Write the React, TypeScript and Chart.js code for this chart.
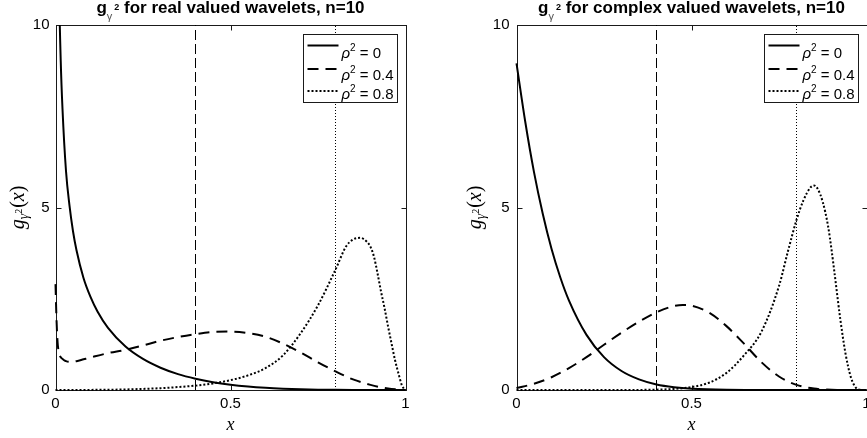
import React, { useEffect, useRef } from "react";
import { Chart, registerables } from "chart.js";

Chart.register(...registerables);

// ---------------- data ----------------
const xTickValues = [0, 0.5, 1];
const yTickValues = [0, 5, 10];
const thresholdX = [0.4, 0.8];
const rhoLabels = ["0", "0.4", "0.8"];
const titleReal = " for real valued wavelets, n=10";
const titleComplex = " for complex valued wavelets, n=10";

// real valued wavelets
const realX0 = [0.005, 0.01, 0.015, 0.02, 0.03, 0.04, 0.05, 0.06, 0.08, 0.1, 0.12, 0.15, 0.2, 0.25, 0.3, 0.35, 0.4, 0.45, 0.5, 0.55, 0.6, 0.65, 0.7, 0.75, 0.8, 0.85, 0.9, 0.95, 1];
const realY0 = [16.2, 11.2, 9.0, 7.7, 6.0, 5.05, 4.35, 3.83, 3.07, 2.55, 2.15, 1.7, 1.19, 0.85, 0.61, 0.435, 0.31, 0.215, 0.146, 0.096, 0.061, 0.037, 0.021, 0.01, 0.005, 0.002, 0.0003, 0, 0];

const realX1 = [0, 0.003, 0.006, 0.01, 0.02, 0.03, 0.04, 0.06, 0.08, 0.1, 0.15, 0.2, 0.25, 0.3, 0.35, 0.4, 0.45, 0.5, 0.55, 0.6, 0.65, 0.7, 0.75, 0.8, 0.85, 0.9, 0.95, 1];
const realY1 = [2.9, 1.9, 1.3, 1.02, 0.85, 0.79, 0.77, 0.79, 0.84, 0.89, 1.01, 1.1, 1.22, 1.35, 1.45, 1.53, 1.59, 1.6, 1.56, 1.46, 1.27, 1.03, 0.76, 0.51, 0.29, 0.14, 0.04, 0];

const realX2 = [0, 0.1, 0.2, 0.25, 0.3, 0.35, 0.4, 0.45, 0.5, 0.55, 0.6, 0.65, 0.7, 0.75, 0.8, 0.83, 0.85, 0.87, 0.89, 0.9, 0.91, 0.92, 0.93, 0.94, 0.95, 0.96, 0.97, 0.98, 0.99, 1];
const realY2 = [0, 0.003, 0.015, 0.03, 0.05, 0.08, 0.12, 0.18, 0.27, 0.4, 0.6, 0.95, 1.55, 2.32, 3.3, 3.93, 4.12, 4.17, 4.06, 3.92, 3.65, 3.2, 2.7, 2.25, 1.75, 1.28, 0.82, 0.45, 0.12, 0];

// complex valued wavelets
const cplxX0 = [0, 0.025, 0.05, 0.075, 0.1, 0.125, 0.15, 0.2, 0.25, 0.3, 0.35, 0.4, 0.45, 0.5, 0.6, 0.7, 0.8, 0.9, 1];
const cplxY0 = [8.95, 7.35, 5.97, 4.83, 3.87, 3.09, 2.45, 1.51, 0.9, 0.52, 0.29, 0.15, 0.075, 0.035, 0.006, 0.001, 0, 0, 0];

const cplxX1 = [0, 0.05, 0.1, 0.15, 0.2, 0.25, 0.3, 0.35, 0.4, 0.45, 0.475, 0.5, 0.55, 0.6, 0.65, 0.7, 0.75, 0.8, 0.85, 0.9, 0.95, 1];
const cplxY1 = [0.054, 0.17, 0.35, 0.6, 0.9, 1.24, 1.57, 1.87, 2.13, 2.3, 2.33, 2.31, 2.12, 1.75, 1.27, 0.76, 0.37, 0.14, 0.04, 0.006, 0.0005, 0];

const cplxX2 = [0, 0.3, 0.4, 0.45, 0.5, 0.55, 0.6, 0.65, 0.7, 0.75, 0.775, 0.8, 0.82, 0.84, 0.85, 0.86, 0.875, 0.89, 0.9, 0.91, 0.925, 0.94, 0.955, 0.97, 0.98, 1];
const cplxY2 = [0, 0.001, 0.01, 0.03, 0.08, 0.2, 0.47, 0.95, 1.6, 2.85, 3.78, 4.66, 5.2, 5.55, 5.6, 5.52, 5.15, 4.5, 3.85, 3.1, 1.95, 1.0, 0.36, 0.06, 0.01, 0];

// ---------------- drawing helpers ----------------
const SANS = '"Liberation Sans", Arial, Helvetica, sans-serif';
const SERIF = '"Liberation Serif", "DejaVu Serif", serif';
const seriesDash: number[][] = [[], [11, 7], [2, 2]];

type Run = { text: string; font: string; dy: number; color?: string; gap?: number };

function drawRuns(ctx: CanvasRenderingContext2D, runs: Run[], x0: number, baseline: number, align: "center" | "left") {
  const widths = runs.map((r) => {
    ctx.font = r.font;
    return ctx.measureText(r.text).width + (r.gap || 0);
  });
  const total = widths.reduce((s, w) => s + w, 0);
  let x = align === "center" ? x0 - total / 2 : x0;
  ctx.textAlign = "left";
  ctx.textBaseline = "alphabetic";
  runs.forEach((r, i) => {
    ctx.font = r.font;
    ctx.fillStyle = r.color || "#000";
    ctx.fillText(r.text, x, baseline + r.dy);
    x += widths[i];
  });
}

const decorPlugin = {
  id: "decor",
  beforeDatasetsDraw(chart: any) {
    const { ctx, chartArea: a, scales } = chart;
    ctx.save();
    ctx.strokeStyle = "#1a1a1a";
    ctx.lineWidth = 1;
    ctx.setLineDash([]);
    const L = Math.round(a.left) + 0.5;
    const R = Math.round(a.right) + 0.5;
    const T = Math.round(a.top) + 0.5;
    const B = Math.round(a.bottom) + 0.5;
    ctx.strokeRect(L, T, R - L, B - T);
    ctx.beginPath();
    const tl = 5;
    for (const v of xTickValues) {
      const px = Math.round(scales.x.getPixelForValue(v)) + 0.5;
      ctx.moveTo(px, B);
      ctx.lineTo(px, B - tl);
      ctx.moveTo(px, T);
      ctx.lineTo(px, T + tl);
    }
    for (const v of yTickValues) {
      const py = Math.round(scales.y.getPixelForValue(v)) + 0.5;
      ctx.moveTo(L, py);
      ctx.lineTo(L + tl, py);
      ctx.moveTo(R, py);
      ctx.lineTo(R - tl, py);
    }
    ctx.stroke();
    ctx.restore();
  },
  afterDraw(chart: any, _args: any, opts: any) {
    const { ctx, chartArea: a } = chart;
    const cx = (a.left + a.right) / 2;
    ctx.save();

    // title
    drawRuns(
      ctx,
      [
        { text: "g", font: `bold 17px ${SANS}`, dy: 0 },
        { text: "γ", font: `11px ${SANS}`, dy: 7, color: "#555", gap: 2 },
        { text: "2", font: `bold 9px ${SANS}`, dy: -3 },
        { text: opts.title, font: `bold 17px ${SANS}`, dy: 0 },
      ],
      cx,
      13,
      "center"
    );

    // x label
    ctx.font = `italic 18px ${SERIF}`;
    ctx.fillStyle = "#000";
    ctx.textAlign = "center";
    ctx.textBaseline = "alphabetic";
    ctx.fillText("x", cx, 430);

    // y label (rotated)
    ctx.save();
    ctx.translate(opts.yLabelX, (a.top + a.bottom) / 2);
    ctx.rotate(-Math.PI / 2);
    drawRuns(
      ctx,
      [
        { text: "g", font: `italic 20px ${SERIF}`, dy: 0 },
        { text: "γ", font: `italic 14px ${SERIF}`, dy: 4 },
        { text: "2", font: `10px ${SERIF}`, dy: -2, gap: 1 },
        { text: "(", font: `20px ${SERIF}`, dy: 0 },
        { text: "x", font: `italic 20px ${SERIF}`, dy: 0 },
        { text: ")", font: `20px ${SERIF}`, dy: 0 },
      ],
      0,
      0,
      "center"
    );
    ctx.restore();

    // legend
    const bw = 94;
    const bh = 68;
    const bx = Math.round(a.right - 9 - bw) + 0.5;
    const by = Math.round(a.top + 9) + 0.5;
    ctx.fillStyle = "#fff";
    ctx.fillRect(bx, by, bw, bh);
    ctx.strokeStyle = "#1a1a1a";
    ctx.lineWidth = 1;
    ctx.setLineDash([]);
    ctx.strokeRect(bx, by, bw, bh);
    const lineOff = [11, 34.5, 56.5];
    const textOff = [23, 45.5, 64.5];
    rhoLabels.forEach((lab, i) => {
      const ly = by + lineOff[i];
      ctx.beginPath();
      ctx.strokeStyle = "#000";
      ctx.lineWidth = 2;
      ctx.setLineDash(seriesDash[i]);
      ctx.moveTo(bx + 4, ly);
      ctx.lineTo(bx + 35, ly);
      ctx.stroke();
      ctx.setLineDash([]);
      drawRuns(
        ctx,
        [
          { text: "ρ", font: `italic 15px ${SANS}`, dy: 0 },
          { text: "2", font: `10px ${SANS}`, dy: -7 },
          { text: " = " + lab, font: `15px ${SANS}`, dy: 0 },
        ],
        bx + 38,
        by + textOff[i],
        "left"
      );
    });
    ctx.restore();
  },
};

type PanelCfg = {
  left: number;
  width: number;
  padLeft: number;
  padRight: number;
  yTickPad: number;
  yLabelX: number;
  title: string;
  series: number[][][];
};

const panels: PanelCfg[] = [
  {
    left: 0,
    width: 440,
    padLeft: 0,
    padRight: 34.5,
    yTickPad: 6,
    yLabelX: 24,
    title: titleReal,
    series: [
      [realX0, realY0],
      [realX1, realY1],
      [realX2, realY2],
    ],
  },
  {
    left: 434,
    width: 440,
    padLeft: 27,
    padRight: 7.5,
    yTickPad: 7,
    yLabelX: 47,
    title: titleComplex,
    series: [
      [cplxX0, cplxY0],
      [cplxX1, cplxY1],
      [cplxX2, cplxY2],
    ],
  },
];

function zeroPad(s: any) {
  s.paddingLeft = 0;
  s.paddingRight = 0;
  s.paddingTop = 0;
  s.paddingBottom = 0;
}

function buildConfig(p: PanelCfg): any {
  const curves = p.series.map(([xs, ys], i) => ({
    label: "ρ² = " + rhoLabels[i],
    data: xs.map((x, j) => ({ x, y: ys[j] })),
    borderColor: "#000",
    borderWidth: 2,
    borderDash: seriesDash[i],
    pointRadius: 0,
    fill: false,
    cubicInterpolationMode: "monotone",
    clip: { left: 2, right: 2, top: 0, bottom: 2 },
    order: 1,
  }));
  const refs = thresholdX.map((t, i) => ({
    label: "threshold " + t,
    data: [
      { x: t, y: yTickValues[0] },
      { x: t, y: yTickValues[yTickValues.length - 1] },
    ],
    borderColor: "#000",
    borderWidth: 1,
    borderDash: i === 0 ? [10, 4] : [1, 2],
    pointRadius: 0,
    fill: false,
    order: 2,
  }));
  const tickFont = { family: SANS, size: 15 };
  const fmt = (v: any) => String(v);
  return {
    type: "line",
    data: { datasets: [...curves, ...refs] },
    options: {
      animation: false,
      responsive: false,
      maintainAspectRatio: false,
      events: [],
      layout: { padding: { left: p.padLeft, right: p.padRight, top: 25, bottom: 0 } },
      plugins: {
        legend: { display: false },
        title: { display: false },
        tooltip: { enabled: false },
        decor: { title: p.title, yLabelX: p.yLabelX },
      },
      scales: {
        x: {
          type: "linear",
          min: xTickValues[0],
          max: xTickValues[xTickValues.length - 1],
          afterBuildTicks: (s: any) => {
            s.ticks = xTickValues.map((v) => ({ value: v }));
          },
          grid: { display: false, drawTicks: false },
          border: { display: false },
          ticks: { padding: 5, font: tickFont, color: "#000", maxRotation: 0, autoSkip: false, callback: fmt },
          afterFit: (s: any) => {
            s.height = 48;
            zeroPad(s);
          },
        },
        y: {
          type: "linear",
          min: yTickValues[0],
          max: yTickValues[yTickValues.length - 1],
          afterBuildTicks: (s: any) => {
            s.ticks = yTickValues.map((v) => ({ value: v }));
          },
          grid: { display: false, drawTicks: false },
          border: { display: false },
          ticks: { padding: p.yTickPad, font: tickFont, color: "#000", autoSkip: false, callback: fmt },
          afterFit: (s: any) => {
            s.width = 55.5;
            zeroPad(s);
          },
        },
      },
    },
    plugins: [decorPlugin],
  };
}

function Panel({ cfg }: { cfg: PanelCfg }) {
  const ref = useRef<HTMLCanvasElement>(null);
  useEffect(() => {
    const chart = new Chart(ref.current as HTMLCanvasElement, buildConfig(cfg));
    return () => chart.destroy();
  }, [cfg]);
  return (
    <canvas
      ref={ref}
      width={cfg.width}
      height={438}
      style={{ position: "absolute", left: cfg.left, top: 0, width: cfg.width, height: 438 }}
    />
  );
}

export default function App() {
  return (
    <div
      style={{
        position: "fixed",
        left: 0,
        top: 0,
        width: 867,
        height: 438,
        overflow: "hidden",
        background: "#fff",
      }}
    >
      {panels.map((p, i) => (
        <Panel key={i} cfg={p} />
      ))}
    </div>
  );
}
